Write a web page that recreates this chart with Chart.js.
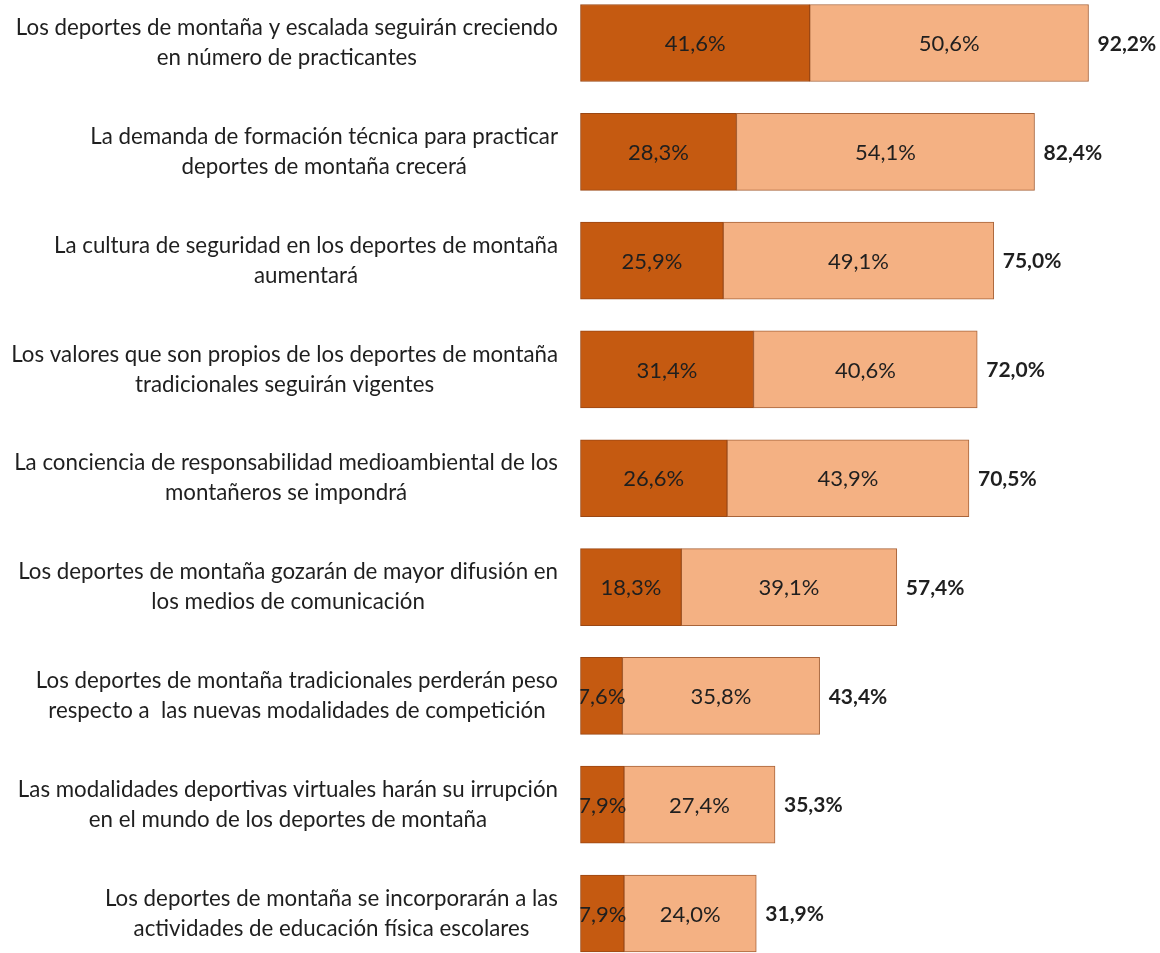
<!DOCTYPE html>
<html>
<head>
<meta charset="utf-8">
<script src="https://cdn.jsdelivr.net/npm/chart.js@4/dist/chart.umd.min.js"></script>
<style>
  html, body { margin: 0; padding: 0; background: #fff; }
</style>
</head>
<body>
<canvas id="chart" width="1160" height="953"></canvas>
<script>
const categories = [
  ['Los deportes de montaña y escalada seguirán creciendo', 'en número de practicantes'],
  ['La demanda de formación técnica para practicar', 'deportes de montaña crecerá'],
  ['La cultura de seguridad en los deportes de montaña', 'aumentará'],
  ['Los valores que son propios de los deportes de montaña', 'tradicionales seguirán vigentes'],
  ['La conciencia de responsabilidad medioambiental de los', 'montañeros se impondrá'],
  ['Los deportes de montaña gozarán de mayor difusión en', 'los medios de comunicación'],
  ['Los deportes de montaña tradicionales perderán peso', 'respecto a  las nuevas modalidades de competición'],
  ['Las modalidades deportivas virtuales harán su irrupción', 'en el mundo de los deportes de montaña'],
  ['Los deportes de montaña se incorporarán a las', 'actividades de educación física escolares']
];
const muyDeAcuerdo = [41.6, 28.3, 25.9, 31.4, 26.6, 18.3, 7.6, 7.9, 7.9];
const deAcuerdo = [50.6, 54.1, 49.1, 40.6, 43.9, 39.1, 35.8, 27.4, 24.0];
const totals = [92.2, 82.4, 75.0, 72.0, 70.5, 57.4, 43.4, 35.3, 31.9];

const FONT = 'Lato, "Open Sans", sans-serif';
const fmt = v => v.toFixed(1).replace('.', ',') + '%';

// value labels, totals and the two-line category labels
const labelPlugin = {
  id: 'labels',
  afterDatasetsDraw(chart) {
    const ctx = chart.ctx;
    const area = chart.chartArea;
    const xScale = chart.scales.x;
    const yScale = chart.scales.y;

    ctx.save();
    ctx.fillStyle = '#1f1f1f';
    ctx.textBaseline = 'middle';

    // numbers inside the segments (clipped at the left edge of the bars)
    ctx.save();
    ctx.beginPath();
    ctx.rect(area.left, 0, chart.width - area.left, chart.height);
    ctx.clip();
    ctx.font = '22px ' + FONT;
    ctx.textAlign = 'center';
    chart.data.datasets.forEach((ds, di) => {
      chart.getDatasetMeta(di).data.forEach((bar, i) => {
        ctx.fillText(fmt(ds.data[i]), (bar.x + bar.base) / 2, bar.y + 1);
      });
    });
    ctx.restore();

    // totals
    ctx.font = 'bold 21px ' + FONT;
    ctx.textAlign = 'left';
    totals.forEach((t, i) => {
      ctx.fillText(fmt(t), xScale.getPixelForValue(t) + 9, yScale.getPixelForValue(i) + 1);
    });

    // category labels: block right-aligned, lines centred inside it
    ctx.font = '22.3px ' + FONT;
    ctx.textAlign = 'center';
    const rightEdge = 558;
    categories.forEach((lines, i) => {
      const w = Math.max(...lines.map(l => ctx.measureText(l).width));
      const cx = rightEdge - w / 2;
      const cy = yScale.getPixelForValue(i);
      ctx.fillText(lines[0], cx, cy - 15);
      ctx.fillText(lines[1], cx, cy + 15);
    });
    ctx.restore();
  }
};

new Chart(document.getElementById('chart'), {
  type: 'bar',
  data: {
    labels: categories,
    datasets: [
      {
        label: 'Muy de acuerdo',
        data: muyDeAcuerdo,
        backgroundColor: '#C55A11',
        borderColor: '#9A4714',
        borderWidth: 1,
        borderSkipped: false,
        barThickness: 77,
        clip: false
      },
      {
        label: 'De acuerdo',
        data: deAcuerdo,
        backgroundColor: '#F4B183',
        borderColor: '#A8643A',
        borderWidth: 1,
        borderSkipped: false,
        barThickness: 77,
        clip: false
      }
    ]
  },
  options: {
    indexAxis: 'y',
    responsive: false,
    animation: false,
    layout: { padding: { left: 580.5, right: 28.5, top: 43, bottom: 39.5 } },
    plugins: {
      legend: { display: false },
      tooltip: { enabled: false }
    },
    scales: {
      x: { stacked: true, min: 0, max: 100, display: false },
      y: { stacked: true, offset: false, display: false }
    }
  },
  plugins: [labelPlugin]
});
</script>
</body>
</html>
